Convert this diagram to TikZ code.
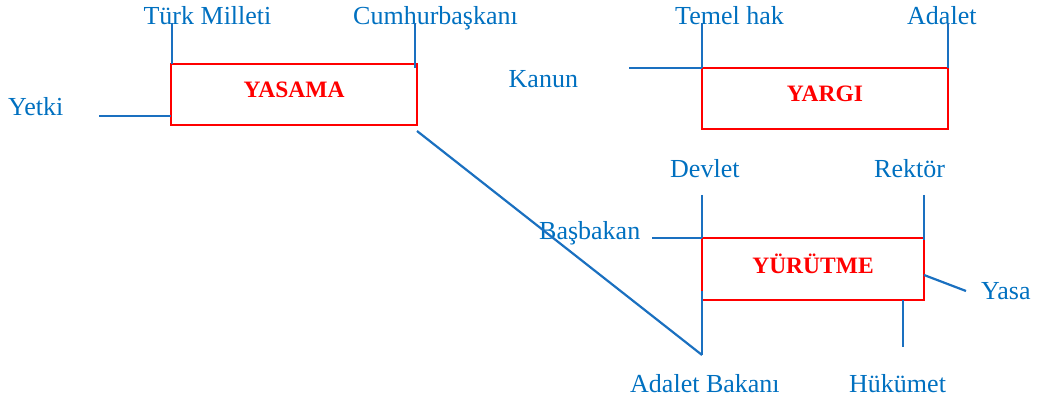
\documentclass[tikz,border=0pt]{standalone}
\usepackage{fontspec}
\setmainfont{Liberation Serif}
\definecolor{wblue}{HTML}{0070C0}
\definecolor{lblue}{HTML}{1A70C0}
\definecolor{wred}{HTML}{FF0000}
\begin{document}
\begin{tikzpicture}[x=1pt,y=-1pt,
  branch/.style={draw=wred,line width=2.6pt,inner sep=0pt,outer sep=0pt,text=wred,
    font=\fontsize{23.5}{26}\selectfont\bfseries,text depth=10pt},
  lbl/.style={text=wblue,inner sep=0pt,font=\fontsize{26}{30}\selectfont},
  conn/.style={draw=lblue,line width=2.2pt}]
\useasboundingbox (0,0) rectangle (1039,403);
% boxes
\node[branch,minimum width=246pt,minimum height=61pt] (yasama) at (294,94.5) {YASAMA};
\node[branch,minimum width=246pt,minimum height=61pt] (yargi) at (825,98.5) {YARGI};
\node[branch,minimum width=222pt,minimum height=62pt] (yurutme) at (813,269) {YÜRÜTME};
% labels
\node[lbl,anchor=base] (turk) at (207.5,25) {Türk Milleti};
\node[lbl,anchor=base west] (cumhur) at (353,25) {Cumhurbaşkanı};
\node[lbl,anchor=base west] (yetki) at (8,115.5) {Yetki};
\node[lbl,anchor=base west] (temel) at (675,25) {Temel hak};
\node[lbl,anchor=base west] (adalet) at (907,25) {Adalet};
\node[lbl,anchor=base west] (kanun) at (508.5,88) {Kanun};
\node[lbl,anchor=base west] (devlet) at (670,177.3) {Devlet};
\node[lbl,anchor=base west] (rektor) at (874,177.3) {Rektör};
\node[lbl,anchor=base west] (basbakan) at (539,239.3) {Başbakan};
\node[lbl,anchor=base west] (yasa) at (981,299.3) {Yasa};
\node[lbl,anchor=base west] (adaletb) at (630,392.3) {Adalet Bakanı};
\node[lbl,anchor=base west] (hukumet) at (849,392.3) {Hükümet};
% free ends of connectors
\coordinate (cTurk) at (172,23);
\coordinate (cTurkB) at (172,64);
\coordinate (cCum) at (415,23);
\coordinate (cCumB) at (415,68);
\coordinate (cYetki) at (99,116);
\coordinate (cDiagA) at (417,131);
\coordinate (cDiagB) at (702,355);
\coordinate (cTemel) at (702,23);
\coordinate (cAdalet) at (948,23);
\coordinate (cKanun) at (629,68);
\coordinate (cDevlet) at (702,195);
\coordinate (cRektor) at (924,195);
\coordinate (cRektorB) at (924,240);
\coordinate (cBas) at (652,238);
\coordinate (cYasaA) at (924,275);
\coordinate (cYasa) at (966,291);
\coordinate (cHukA) at (903,300);
\coordinate (cHuk) at (903,347);
\coordinate (cAdBA) at (702,291);
% connectors
\draw[conn] (cTurk) -- (cTurkB);
\draw[conn] (cCum) -- (cCumB);
\draw[conn] (cYetki) -- (yasama.west |- cYetki);
\draw[conn] (cDiagA) -- (cDiagB);
\draw[conn] (cTemel) -- (yargi.north west);
\draw[conn] (cAdalet) -- (yargi.north east);
\draw[conn] (cKanun) -- (yargi.north west);
\draw[conn] (cDevlet) -- (yurutme.north west);
\draw[conn] (cRektor) -- (cRektorB);
\draw[conn] (cBas) -- (yurutme.north west);
\draw[conn] (cYasaA) -- (cYasa);
\draw[conn] (cHukA) -- (cHuk);
\draw[conn] (cAdBA) -- (cDiagB);
\end{tikzpicture}
\end{document}
